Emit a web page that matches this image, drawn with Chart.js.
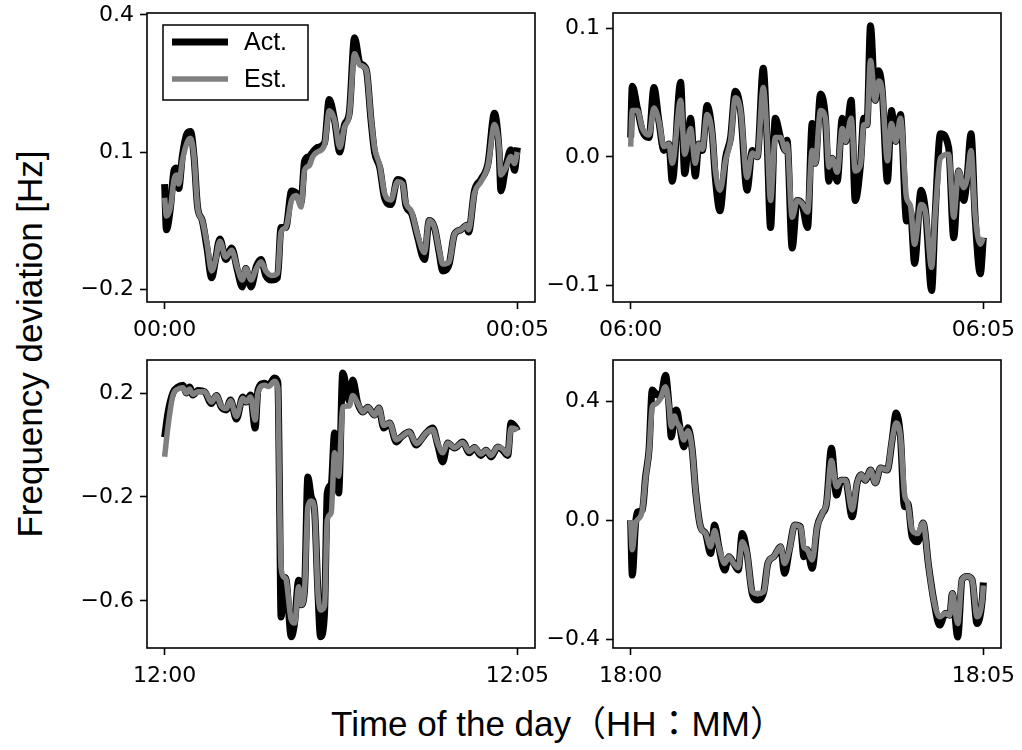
<!DOCTYPE html>
<html>
<head>
<meta charset="utf-8">
<script src="https://cdn.jsdelivr.net/npm/chart.js@4.4.0/dist/chart.umd.min.js"></script>
<style>
  body { margin: 0; background: #fff; }
  #fig { position: relative; width: 1022px; height: 750px; background: #fff; overflow: hidden; }
  #fig canvas { position: absolute; }
  .ylab { position: absolute; left: 30px; top: 344px; transform: translate(-50%, -50%) rotate(-90deg);
          white-space: nowrap; font: 35px "Liberation Sans", Arial, sans-serif; color: #000; }
  .xlab { position: absolute; left: 558px; top: 720px; transform: translate(-50%, -50%);
          white-space: nowrap; font: 35px "Liberation Sans", Arial, "Noto Sans CJK JP", sans-serif; color: #000; }
  .xlab .c { letter-spacing: -10px; margin-right: 10px; }
</style>
</head>
<body>
<div id="fig">
  <canvas id="p1"></canvas>
  <canvas id="p2"></canvas>
  <canvas id="p3"></canvas>
  <canvas id="p4"></canvas>
  <div class="ylab">Frequency deviation [Hz]</div>
  <div class="xlab">Time of the day（HH：MM）</div>
</div>
<script>
// seconds after the start of each 5 minute window
const times1 = [0, 1.5, 5, 8, 10, 12, 15, 19, 22, 25,
  28, 32, 36, 40, 43, 47, 52, 57, 62, 66,
  69, 73.5, 78, 82, 86, 91, 96, 99, 103, 108,
  112, 116, 119, 123, 126, 130, 136, 140, 144.5, 149,
  153, 157, 161.5, 166, 171.5, 175.5, 178.5, 183, 187, 192.5,
  198, 202.5, 205, 210, 215, 221, 225, 229.5, 233.5, 236.5,
  242, 246.5, 252, 257, 258.5, 263.5, 269, 275, 280.5, 284.5,
  286, 290, 294.5, 297.5, 300]
const act1 = [0.03, -0.07, -0.02, 0.06, 0.065, 0.02, 0.09, 0.14, 0.145, 0.09,
  -0.02, -0.05, -0.11, -0.175, -0.14, -0.09, -0.135, -0.11, -0.16, -0.195,
  -0.155, -0.195, -0.15, -0.135, -0.17, -0.18, -0.175, -0.065, -0.065, 0.015,
  0.01, -0.01, 0.08, 0.09, 0.1, 0.11, 0.12, 0.215, 0.17, 0.1,
  0.16, 0.185, 0.35, 0.295, 0.28, 0.17, 0.1, 0.065, 0.0, -0.015,
  0.04, 0.035, -0.015, -0.035, -0.085, -0.135, -0.05, -0.065, -0.12, -0.16,
  -0.145, -0.08, -0.07, -0.06, -0.075, 0.015, 0.04, 0.075, 0.185, 0.1,
  0.015, 0.065, 0.105, 0.06, 0.11]
const est1 = [0.0, -0.04, -0.02, 0.04, 0.05, 0.03, 0.08, 0.12, 0.13, 0.09,
  -0.02, -0.05, -0.10, -0.16, -0.14, -0.095, -0.13, -0.115, -0.155, -0.18,
  -0.155, -0.18, -0.155, -0.14, -0.16, -0.17, -0.165, -0.075, -0.065, -0.005,
  0.005, -0.02, 0.06, 0.07, 0.09, 0.1, 0.115, 0.19, 0.17, 0.11,
  0.155, 0.18, 0.315, 0.29, 0.28, 0.175, 0.11, 0.07, 0.01, -0.005,
  0.035, 0.03, -0.01, -0.03, -0.08, -0.12, -0.05, -0.065, -0.115, -0.145,
  -0.14, -0.08, -0.07, -0.06, -0.07, 0.01, 0.035, 0.07, 0.16, 0.11,
  0.05, 0.065, 0.09, 0.075, 0.1]

const times2 = [0, 1.4, 5.7, 10, 15.6, 19.8, 24, 28.3, 32.5, 35.4,
  42.5, 46, 51, 55, 58, 61, 65, 69.4, 72, 76,
  80.7, 85, 89, 93.5, 99, 103.5, 107.7, 112.8, 116, 119,
  123, 127.5, 131.7, 133, 137.4, 141.6, 145.5, 150.5, 154.4, 157,
  161.5, 165.7, 168.6, 171.4, 175.7, 180, 182.8, 187.6, 191, 195.5,
  198.3, 201, 204, 208, 211, 214, 218.4, 221.8, 225.5, 229.5,
  234.7, 238, 241.5, 247, 251, 256, 259, 263.5, 270.5, 274.8,
  279, 283.3, 286, 289.5, 293, 297.4, 300]
const act2 = [0.015, 0.055, 0.038, 0.02, 0.015, 0.054, 0.028, 0.005, 0.01, -0.019,
  0.058, -0.013, 0.03, -0.015, 0.01, 0.005, 0.04, 0.018, -0.016, -0.042,
  -0.001, 0.015, 0.051, 0.036, -0.026, 0.005, 0.0, 0.069, 0.015, -0.055,
  0.03, 0.015, 0.005, 0.013, -0.071, -0.034, -0.036, -0.055, 0.026, -0.005,
  0.049, 0.03, -0.019, -0.001, -0.019, 0.03, 0.012, 0.044, -0.034, -0.006,
  0.03, 0.025, 0.102, 0.044, 0.067, 0.051, -0.019, 0.036, 0.012, 0.033,
  -0.05, -0.042, -0.083, -0.026, -0.044, -0.104, -0.045, 0.018, 0.007, -0.063,
  -0.011, -0.034, -0.018, 0.018, -0.047, -0.091, -0.063]
const est2 = [0.008, 0.036, 0.036, 0.022, 0.017, 0.038, 0.028, 0.008, 0.01, -0.005,
  0.044, 0.002, 0.022, -0.005, 0.01, 0.006, 0.033, 0.018, -0.01, -0.026,
  -0.003, 0.013, 0.046, 0.036, -0.016, 0.003, 0.0, 0.054, 0.018, -0.034,
  0.015, 0.015, 0.005, 0.01, -0.047, -0.034, -0.036, -0.043, 0.005, -0.005,
  0.036, 0.03, -0.008, -0.001, -0.012, 0.022, 0.012, 0.03, -0.011, -0.006,
  0.025, 0.025, 0.075, 0.044, 0.059, 0.051, -0.003, 0.026, 0.012, 0.03,
  -0.032, -0.038, -0.068, -0.037, -0.044, -0.086, -0.045, -0.001, 0.002, -0.047,
  -0.011, -0.024, -0.018, 0.005, -0.045, -0.068, -0.063]

const times3 = [0, 2.8, 7, 11.3, 15.6, 18.4, 21.2, 24, 28.3, 34,
  39.7, 44, 48.2, 52.4, 56, 61, 66.5, 69.4, 73, 77,
  79.3, 85, 88.4, 93.5, 96.3, 97.7, 99, 102, 103.4, 107.7,
  110.5, 114, 116, 119, 121.8, 124.7, 127.5, 130.3, 132.6, 136,
  138.3, 141.7, 144.5, 148, 151.5, 157, 160, 164.3, 168.6, 172.8,
  178.5, 182.2, 186.4, 191.2, 197, 201, 208, 214, 218, 222.4,
  228, 232.3, 236.5, 240.8, 246.5, 253.5, 259.2, 263.5, 269, 273.4,
  277.6, 283.3, 287.5, 291.8, 294.6, 299, 300]
const act3 = [0.03, 0.123, 0.2, 0.223, 0.23, 0.2, 0.223, 0.192, 0.21, 0.205,
  0.16, 0.19, 0.146, 0.135, 0.173, 0.1, 0.185, 0.165, 0.192, 0.065,
  0.21, 0.238, 0.23, 0.258, 0.24, -0.185, -0.662, -0.51, -0.52, -0.738,
  -0.685, -0.52, -0.615, -0.558, -0.123, -0.2, -0.25, -0.56, -0.738, -0.646,
  -0.185, -0.15, 0.046, -0.185, 0.277, 0.17, 0.25, 0.16, 0.127, 0.145,
  0.115, 0.142, 0.065, 0.085, 0.012, 0.03, 0.05, 0.0, 0.02, 0.046,
  0.065, 0.0, -0.065, 0.008, -0.012, 0.012, -0.03, -0.01, -0.04, -0.02,
  -0.046, -0.008, -0.02, -0.04, 0.085, 0.065, 0.055]
const est3 = [-0.045, 0.07, 0.19, 0.215, 0.22, 0.2, 0.215, 0.195, 0.205, 0.205,
  0.165, 0.19, 0.15, 0.14, 0.17, 0.11, 0.18, 0.165, 0.185, 0.096,
  0.2, 0.23, 0.225, 0.245, 0.22, -0.185, -0.47, -0.51, -0.52, -0.673,
  -0.685, -0.545, -0.615, -0.558, -0.238, -0.215, -0.25, -0.56, -0.635, -0.62,
  -0.288, -0.26, -0.03, -0.12, 0.146, 0.15, 0.19, 0.16, 0.127, 0.145,
  0.115, 0.142, 0.075, 0.085, 0.02, 0.03, 0.05, 0.005, 0.02, 0.046,
  0.06, 0.005, -0.03, 0.008, -0.01, 0.01, -0.025, -0.01, -0.035, -0.02,
  -0.04, -0.008, -0.015, -0.035, 0.065, 0.06, 0.055]

const times4 = [0, 1.4, 4.2, 5.7, 10, 12.7, 15.6, 18.4, 21.2, 25.5,
  29.7, 32.5, 34.6, 37.4, 39, 42, 45.3, 48.7, 52.4, 55.2,
  59.5, 63.7, 68, 71.4, 75, 80, 83.5, 87.8, 91.5, 94.9,
  99, 103.4, 107.7, 113.3, 116.7, 121.8, 127.5, 130.9, 135, 139.6,
  144.5, 147.3, 150.2, 154.4, 158.7, 163, 166.6, 170.8, 175.1, 179,
  182.7, 188.4, 192.7, 196, 199.7, 204, 208.2, 212.5, 218.2, 222.4,
  225.8, 229.5, 232.9, 235.7, 239.4, 244.2, 248.7, 253.5, 257.8, 262.8,
  267.7, 271.4, 273.6, 278.2, 281.9, 286.2, 290.4, 294.6, 299, 300]
const act4 = [0.0, -0.185, -0.01, 0.027, 0.034, 0.146, 0.235, 0.437, 0.426, 0.415,
  0.487, 0.39, 0.279, 0.36, 0.37, 0.31, 0.246, 0.31, 0.235, 0.1,
  -0.023, -0.045, -0.112, -0.017, -0.09, -0.168, -0.123, -0.146, -0.168, -0.045,
  -0.112, -0.247, -0.269, -0.24, -0.146, -0.123, -0.09, -0.179, -0.1, -0.017,
  -0.023, -0.123, -0.1, -0.162, -0.023, 0.022, 0.056, 0.241, 0.084, 0.134,
  0.134, 0.011, 0.125, 0.152, 0.134, 0.168, 0.125, 0.175, 0.168, 0.269,
  0.36, 0.279, 0.045, 0.056, -0.056, -0.073, -0.01, -0.157, -0.269, -0.353,
  -0.314, -0.32, -0.247, -0.393, -0.2, -0.19, -0.2, -0.348, -0.27, -0.21]
const est4 = [0.0, -0.1, -0.01, 0.0, 0.034, 0.14, 0.23, 0.38, 0.39, 0.41,
  0.448, 0.39, 0.313, 0.35, 0.33, 0.31, 0.269, 0.3, 0.235, 0.1,
  -0.023, -0.045, -0.09, -0.035, -0.09, -0.146, -0.123, -0.146, -0.16, -0.073,
  -0.112, -0.24, -0.247, -0.24, -0.146, -0.123, -0.09, -0.146, -0.1, -0.017,
  -0.023, -0.09, -0.1, -0.134, -0.023, 0.022, 0.056, 0.2, 0.112, 0.134,
  0.134, 0.034, 0.125, 0.152, 0.134, 0.168, 0.125, 0.175, 0.168, 0.269,
  0.326, 0.279, 0.09, 0.056, -0.034, -0.045, -0.01, -0.157, -0.269, -0.325,
  -0.314, -0.32, -0.247, -0.348, -0.2, -0.19, -0.2, -0.325, -0.27, -0.22]

const xTicks = [0, 300]
const xLabels1 = ['00:00', '00:05']
const xLabels2 = ['06:00', '06:05']
const xLabels3 = ['12:00', '12:05']
const xLabels4 = ['18:00', '18:05']

const yTicks1 = [-0.2, 0.1, 0.4]
const yLabels1 = ['−0.2', '0.1', '0.4']
const yTicks2 = [-0.1, 0.0, 0.1]
const yLabels2 = ['−0.1', '0.0', '0.1']
const yTicks3 = [-0.6, -0.2, 0.2]
const yLabels3 = ['−0.6', '−0.2', '0.2']
const yTicks4 = [-0.4, 0.0, 0.4]
const yLabels4 = ['−0.4', '0.0', '0.4']

const yLim1 = [-0.228, 0.404]
const yLim2 = [-0.113, 0.112]
const yLim3 = [-0.781, 0.327]
const yLim4 = [-0.43, 0.538]

const panels = [
  { id: 'p1', t: times1, act: act1, est: est1, xl: xLabels1, yt: yTicks1, yl: yLabels1, lim: yLim1, legend: true },
  { id: 'p2', t: times2, act: act2, est: est2, xl: xLabels2, yt: yTicks2, yl: yLabels2, lim: yLim2 },
  { id: 'p3', t: times3, act: act3, est: est3, xl: xLabels3, yt: yTicks3, yl: yLabels3, lim: yLim3 },
  { id: 'p4', t: times4, act: act4, est: est4, xl: xLabels4, yt: yTicks4, yl: yLabels4, lim: yLim4 }
]

// plot boxes on the page (left, top, width, height)
const boxes = [
  [147, 13, 388, 289],
  [613, 13, 388, 289],
  [147, 360, 388, 288],
  [613, 360, 388, 288]
]
const axW = 75, axH = 45, padT = 24, padR = 25

Chart.defaults.font.family = '"DejaVu Sans", sans-serif'
Chart.defaults.font.size = 22
Chart.defaults.color = '#000'

// black box round each plot
const frame = {
  id: 'frame',
  afterDatasetsDraw(chart) {
    const a = chart.chartArea, ctx = chart.ctx
    ctx.save()
    ctx.strokeStyle = '#000'
    ctx.lineWidth = 1.6
    ctx.strokeRect(a.left, a.top, a.right - a.left, a.bottom - a.top)
    ctx.restore()
  }
}

// square legend inside the first plot
const boxLegend = {
  id: 'boxLegend',
  afterDraw(chart, args, opts) {
    if (!opts.show) return
    const ctx = chart.ctx, a = chart.chartArea
    const x = a.left + 16, y = a.top + 12
    ctx.save()
    ctx.fillStyle = '#fff'
    ctx.fillRect(x, y, 145, 75)
    ctx.strokeStyle = '#000'
    ctx.lineWidth = 1.5
    ctx.strokeRect(x, y, 145, 75)
    chart.data.datasets.forEach((ds, i) => {
      const ly = y + 17 + i * 37
      ctx.beginPath()
      ctx.moveTo(x + 9, ly)
      ctx.lineTo(x + 65, ly)
      ctx.strokeStyle = ds.borderColor
      ctx.lineWidth = ds.borderWidth
      ctx.lineCap = 'butt'
      ctx.stroke()
      ctx.fillStyle = '#000'
      ctx.font = '25px "Liberation Sans", Arial, sans-serif'
      ctx.textBaseline = 'middle'
      ctx.textAlign = 'left'
      ctx.fillText(ds.label, x + 81, ly + 1)
    })
    ctx.restore()
  }
}

function toPts(t, v) {
  return t.map((x, i) => ({ x: x, y: v[i] }))
}

panels.forEach((p, k) => {
  const b = boxes[k]
  const cv = document.getElementById(p.id)
  cv.width = b[2] + axW + padR
  cv.height = b[3] + padT + axH
  cv.style.left = (b[0] - axW) + 'px'
  cv.style.top = (b[1] - padT) + 'px'

  new Chart(cv, {
    type: 'line',
    data: {
      datasets: [{
        label: 'Act.',
        data: toPts(p.t, p.act),
        borderColor: '#000000',
        borderWidth: 7,
        order: 1
      }, {
        label: 'Est.',
        data: toPts(p.t, p.est),
        borderColor: '#808080',
        borderWidth: 5.5,
        order: 0
      }]
    },
    options: {
      responsive: false,
      animation: false,
      layout: { padding: { top: padT, right: padR, left: 0, bottom: 0 } },
      elements: {
        point: { radius: 0 },
        line: { cubicInterpolationMode: 'monotone', borderJoinStyle: 'round', borderCapStyle: 'butt', fill: false }
      },
      plugins: {
        legend: { display: false },
        tooltip: { enabled: false },
        boxLegend: { show: !!p.legend }
      },
      scales: {
        x: {
          type: 'linear',
          min: -15,
          max: 315,
          afterBuildTicks: s => { s.ticks = xTicks.map(v => ({ value: v })) },
          afterFit: s => { s.height = axH },
          ticks: { callback: (v, i) => p.xl[i], autoSkip: false, maxRotation: 0, padding: 8 },
          grid: { drawOnChartArea: false, tickLength: 7, tickWidth: 1.6, tickColor: '#000' },
          border: { display: false }
        },
        y: {
          min: p.lim[0],
          max: p.lim[1],
          afterBuildTicks: s => { s.ticks = p.yt.map(v => ({ value: v })) },
          afterFit: s => { s.width = axW },
          ticks: { callback: (v, i) => p.yl[i], autoSkip: false, padding: 6 },
          grid: { drawOnChartArea: false, tickLength: 7, tickWidth: 1.6, tickColor: '#000' },
          border: { display: false }
        }
      }
    },
    plugins: [frame, boxLegend]
  })
})
</script>
</body>
</html>
